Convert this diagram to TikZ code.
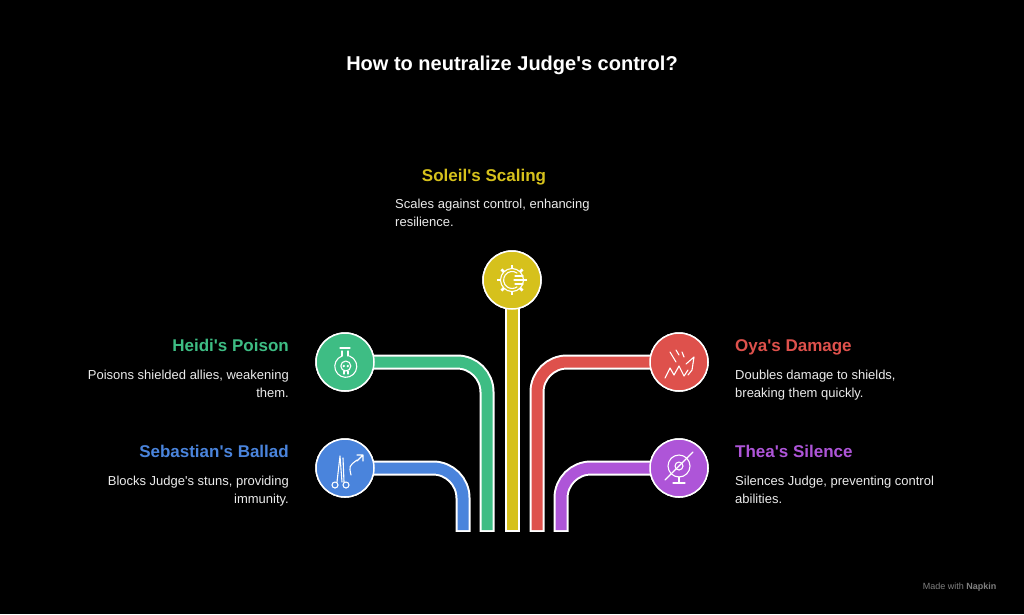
\documentclass[tikz,border=0pt]{standalone}
\usepackage{fontspec}
\setmainfont{Liberation Sans}[Ligatures=TeXOff]
\begin{document}
\begin{tikzpicture}[x=1pt,y=-1pt,
  ic/.style={circle,minimum size=58pt,inner sep=0pt,draw=white,line width=1.5pt},
  head/.style={font=\fontsize{17}{20}\selectfont\bfseries,inner sep=0pt},
  desc/.style={font=\fontsize{13}{18}\selectfont,text=white!92!black,inner sep=0pt},
  glyph/.style={draw=white,line width=1.1pt,line cap=round,line join=round}]
\definecolor{cy}{HTML}{D6C11C}
\definecolor{cg}{HTML}{3EBD84}
\definecolor{cb}{HTML}{4A84DC}
\definecolor{cr}{HTML}{DE514C}
\definecolor{cp}{HTML}{AE55D8}
\fill[black] (0,0) rectangle (1024,614);
\useasboundingbox (0,0) rectangle (1024,614);
\node[font=\fontsize{20}{24}\selectfont\bfseries,text=white] (title) at (512,65) {How to neutralize Judge's control?};
% icon circles
\node[ic,fill=cy] (y) at (512,280) {};
\node[ic,fill=cg] (g) at (345,362) {};
\node[ic,fill=cb] (b) at (345,468) {};
\node[ic,fill=cr] (r) at (679,362) {};
\node[ic,fill=cp] (p) at (679,468) {};
\coordinate (yb) at (512,532);
\coordinate (gb) at (487,532);
\coordinate (bb) at (463,532);
\coordinate (rb) at (537,532);
\coordinate (pb) at (561,532);
% bars
\foreach \c/\s/\e in {cg/g/gb,cb/b/bb,cr/r/rb,cp/p/pb}{
  \draw[white,line width=15pt,rounded corners=30pt] (\s.center) -- (\s.center -| \e) -- (\e);
  \draw[\c,line width=11pt,rounded corners=30pt] (\s.center) -- (\s.center -| \e) -- ([yshift=2pt]\e);
}
\draw[white,line width=15pt] (y.center) -- (yb);
\draw[cy,line width=11pt] (y.center) -- ([yshift=2pt]yb);
\fill[black] (400,532) rectangle (620,545);
\foreach \n/\c in {y/cy,g/cg,b/cb,r/cr,p/cp}{\draw[white,line width=1.5pt,fill=\c] (\n.center) circle (29pt);}
% glyphs
\begin{scope}[glyph]
 % yellow gear + sun
 \draw (512,280) circle (11.5pt);
 \foreach \a in {0,45,...,315}{\draw[line width=2.6pt,line cap=butt] ([shift={(\a:11)}]512,280) -- ([shift={(\a:15)}]512,280);}
 \fill[cy] (512,280) circle (10.3pt);
 \draw (517,273) arc (305:55:8.5);
 \draw (515,276) -- (523,276) (514,280) -- (525,280) (515,284) -- (523,284);
 % green flask with skull
 \draw (340,348) -- (350,348) (342,351) -- (342,356) (348,351) -- (348,356);
 \draw (342,356) arc (250:-70:11);
 \draw (345.8,366) circle (5pt);
 \fill[white] (343.8,366) circle (1.3pt) (347.8,366) circle (1.3pt);
 \draw (344,371) -- (344,374) (348,371) -- (348,374);
 % blue scissors + male
 \draw (335,485) circle (3pt) (346,485) circle (3pt);
 \draw (337,482) -- (340,456) -- (342,482) (344,482) -- (343,458);
 \draw (351,475) .. controls (349,466) .. (357,460) (357,455) -- (363,455) -- (363,461) (357,461)--(363,455);
 % red crack
 \draw (665,378) -- (670,368) -- (674,375) -- (679,366) -- (684,376) -- (688,370);
 \draw (670,352) -- (676,362) (676,350) -- (679,355) (682,352) -- (684,357);
 \draw (686,364) -- (694,357) -- (692,370) -- (688,375);
 % purple eye crossed
 \draw (679,466) circle (11pt);
 \draw (679,466) circle (4pt);
 \draw (679,477) -- (679,483) (673,483) -- (685,483);
 \draw (665,480) -- (693,452);
\end{scope}
% texts
\node[head,text=cy,anchor=base] (yt) at (484,181) {Soleil's Scaling};
\node[desc,anchor=north west,align=left] (yd) at (395,199) {Scales against control, enhancing\\resilience.};
\node[head,text=cg,anchor=base east] (gt) at (289,351) {Heidi's Poison};
\node[desc,anchor=north east,align=right] (gd) at (289,370) {Poisons shielded allies, weakening\\them.};
\node[head,text=cb,anchor=base east] (bt) at (289,457) {Sebastian's Ballad};
\node[desc,anchor=north east,align=right] (bd) at (289,476) {Blocks Judge's stuns, providing\\immunity.};
\node[head,text=cr,anchor=base west] (rt) at (735,351) {Oya's Damage};
\node[desc,anchor=north west,align=left] (rd) at (735,370) {Doubles damage to shields,\\breaking them quickly.};
\node[head,text=cp,anchor=base west] (pt) at (735,457) {Thea's Silence};
\node[desc,anchor=north west,align=left] (pd) at (735,476) {Silences Judge, preventing control\\abilities.};
\node[font=\fontsize{9}{10}\selectfont,text=gray,anchor=east] (mw) at (1000,587) {Made with \textbf{Napkin}};
\end{tikzpicture}
\end{document}
